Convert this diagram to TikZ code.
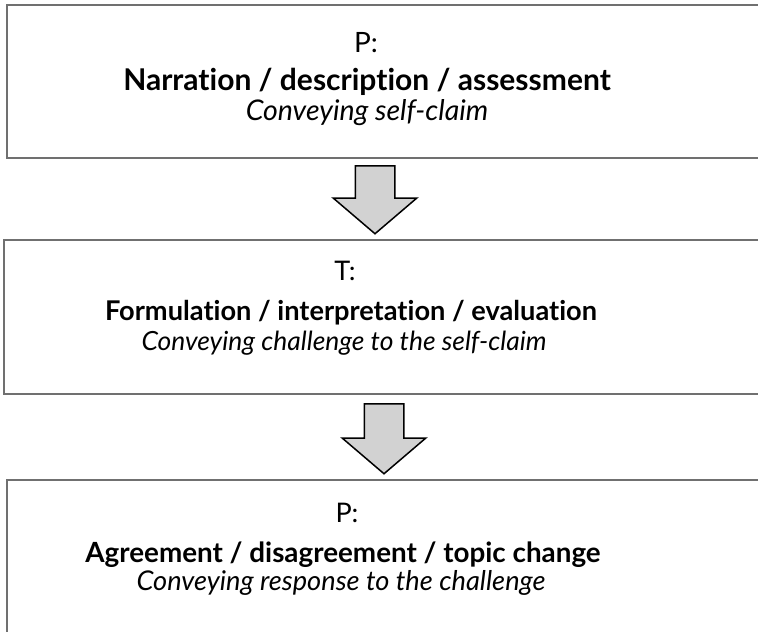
\documentclass[tikz,border=0pt]{standalone}
\usepackage{fontspec}
\setmainfont{Lato}[Ligatures={NoCommon}]
\usetikzlibrary{shapes.arrows, positioning}
\definecolor{boxgray}{RGB}{112,112,112}
\definecolor{arrowfill}{RGB}{210,210,210}

\begin{document}
\begin{tikzpicture}[
    x=1pt, y=-1pt,
    box/.style={draw=boxgray, line width=2pt, fill=white, minimum width=790pt, minimum height=153pt, anchor=north west, inner sep=0pt},
    head/.style={anchor=base, font=\fontsize{#1}{32}\selectfont, inner sep=0pt},
    main/.style={anchor=base, font=\fontsize{#1}{34}\selectfont\bfseries, inner sep=0pt},
    sub/.style={anchor=base, font=\fontsize{#1}{32}\selectfont\itshape, inner sep=0pt},
    downarrow/.style={draw=black, line width=1.5pt, fill=arrowfill, single arrow, shape border rotate=270, anchor=tail, inner xsep=19pt, inner ysep=0pt, minimum height=68pt, minimum width=82pt, single arrow head extend=22pt, single arrow tip angle=99}
]
    \useasboundingbox (0,0) rectangle (758,632);
    \clip (0,0) rectangle (758,632);

    % P: first turn
    \node[box] (b1) at (6,4) {};
    \node[head=28] (b1head) at (366,52) {P:};
    \node[main=30] (b1main) at (367,90) {Narration / description / assessment};
    \node[sub=28.5] (b1sub) at (367,120) {Conveying self-claim};

    % T: second turn
    \node[box, minimum height=154pt] (b2) at (3,239) {};
    \node[head=27] (b2head) at (345,280) {T:};
    \node[main=27.2] (b2main) at (351,320) {Formulation / interpretation / evaluation};
    \node[sub=26.4] (b2sub) at (344,350) {Conveying challenge to the self-claim};

    % P: third turn
    \node[box] (b3) at (6,479) {};
    \node[head=27] (b3head) at (347,522) {P:};
    \node[main=27.8] (b3main) at (343,562) {Agreement / disagreement / topic change};
    \node[sub=27.2] (b3sub) at (341,590) {Conveying response to the challenge};

    % Arrows
    \node[downarrow] (a1) at (375,165) {};
    \node[downarrow, minimum height=70pt] (a2) at (384,403) {};
\end{tikzpicture}
\end{document}
